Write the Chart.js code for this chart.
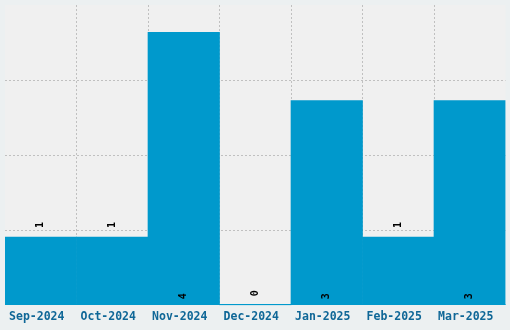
<!DOCTYPE html>
<html>
<head>
<meta charset="utf-8">
<script src="https://cdn.jsdelivr.net/npm/chart.js@4/dist/chart.umd.min.js"></script>
<style>
  html, body { margin: 0; padding: 0; background: #ecf0f1; }
  #wrap { width: 510px; height: 330px; position: relative; }
</style>
</head>
<body>
<div id="wrap"><canvas id="c"></canvas></div>
<script>
const categories = ["Sep-2024", "Oct-2024", "Nov-2024", "Dec-2024", "Jan-2025", "Feb-2025", "Mar-2025"];
const counts = [1, 1, 4, 0, 3, 1, 3];
const yMax = 4.4;
const yStep = 1.1;

const barColor = '#0099cc';
const gridColor = 'rgba(0,0,0,0.2)';

const areaBg = {
  id: 'areaBg',
  beforeDraw(chart) {
    const { ctx, chartArea: a } = chart;
    ctx.save();
    ctx.fillStyle = '#f0f0f0';
    ctx.fillRect(a.left, a.top, a.right - a.left, a.bottom - a.top);
    ctx.restore();
  }
};

const valueLabels = {
  id: 'valueLabels',
  afterDraw(chart) {
    const { ctx, chartArea: a } = chart;
    const meta = chart.getDatasetMeta(0);
    const y = chart.scales.y;
    const base = y.getPixelForValue(0);
    ctx.save();
    ctx.fillStyle = barColor;
    ctx.fillRect(a.left, Math.round(base) - 1, a.right - a.left, 1);
    ctx.fillStyle = '#000';
    ctx.font = 'bold 10px "DejaVu Sans Mono", monospace';
    ctx.textAlign = 'center';
    ctx.textBaseline = 'middle';
    meta.data.forEach((bar, i) => {
      const v = counts[i];
      const top = y.getPixelForValue(v);
      const cy = v >= 2 ? base - 9 : top - 12;
      ctx.save();
      ctx.translate(bar.x, cy);
      ctx.rotate(-Math.PI / 2);
      ctx.fillText(String(v), 0, 0);
      ctx.restore();
    });
    ctx.restore();
  }
};

new Chart(document.getElementById('c'), {
  type: 'bar',
  data: {
    labels: categories,
    datasets: [{
      data: counts,
      backgroundColor: barColor,
      borderWidth: 0,
      barPercentage: 1,
      categoryPercentage: 1
    }]
  },
  options: {
    responsive: true,
    maintainAspectRatio: false,
    animation: false,
    layout: { padding: { left: 5, right: 4.5, top: 5, bottom: 1 } },
    plugins: { legend: { display: false }, tooltip: { enabled: false } },
    scales: {
      x: {
        z: 1,
        border: { display: false, dash: [2, 2] },
        grid: {
          offset: true,
          drawTicks: false,
          lineWidth: 1,
          color: (c) => (c.type !== 'tick' || c.index === 0) ? 'rgba(0,0,0,0)' : gridColor
        },
        ticks: {
          color: '#0f6797',
          font: { family: '"DejaVu Sans Mono", monospace', size: 11.5, weight: 'bold' },
          padding: 5,
          labelOffset: -4,
          maxRotation: 0,
          autoSkip: false
        }
      },
      y: {
        z: 1,
        min: 0,
        max: yMax,
        border: { display: false, dash: [2, 2] },
        grid: {
          drawTicks: false,
          lineWidth: 1,
          color: (c) => (c.index === 0 || (c.tick && c.tick.value >= yMax - 0.01)) ? 'rgba(0,0,0,0)' : gridColor
        },
        ticks: { display: false, stepSize: yStep }
      }
    }
  },
  plugins: [areaBg, valueLabels]
});
</script>
</body>
</html>
